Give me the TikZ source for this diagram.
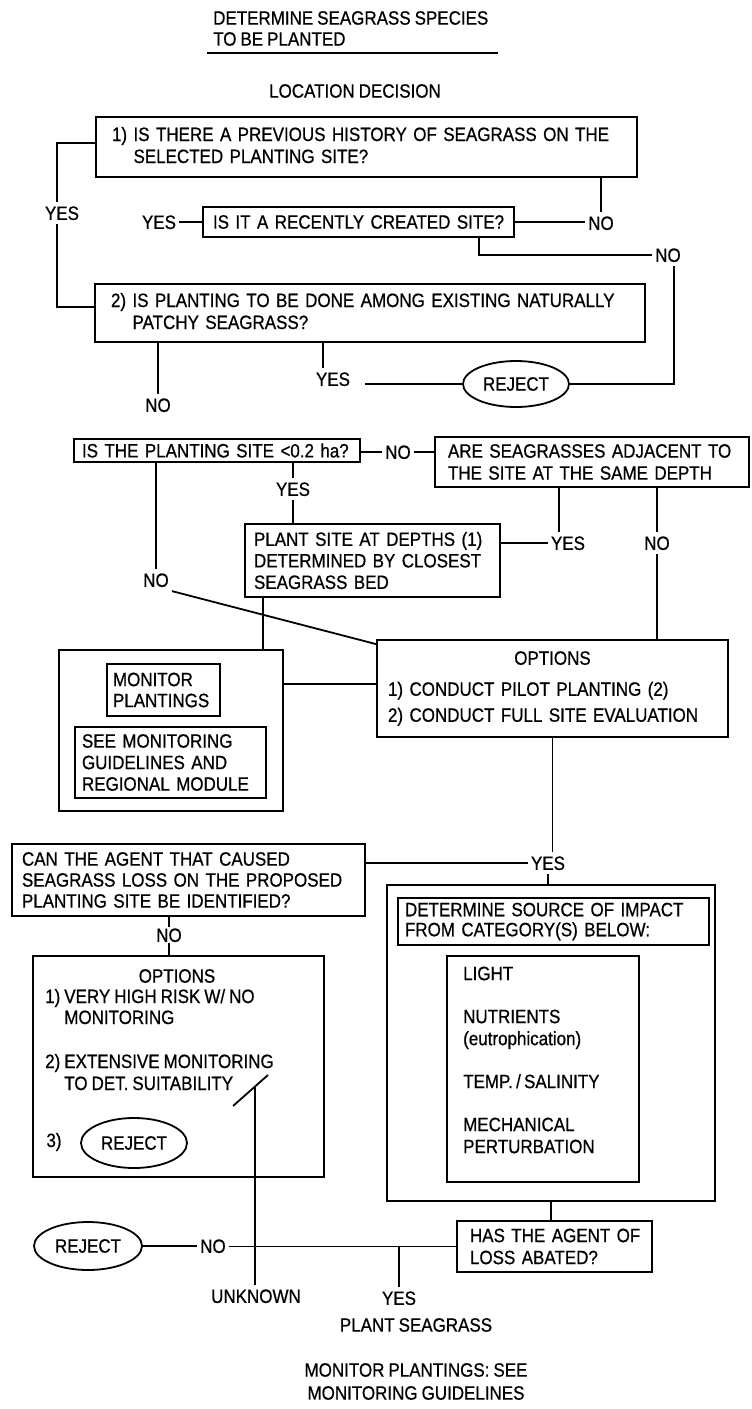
\documentclass[tikz,border=0pt]{standalone}
\usepackage{fontspec}
\setmainfont{Liberation Sans}[FakeStretch=0.88, FakeBold=0.7, WordSpace=0.85]
\usetikzlibrary{shapes.geometric}
\newcommand\dfont{\fontsize{19.3}{22}\selectfont}
\newcommand\Ln[1]{\mbox{#1}}
\tikzset{
  ln/.style={line width=1.8pt},
  bx/.style={draw, line width=1.8pt, inner ysep=0pt, align=left, font=\dfont},
  lbl/.style={inner xsep=3pt, inner ysep=4pt, text height=13.8pt, text depth=0pt, font=\dfont},
  txt/.style={inner sep=0pt, align=left, font=\dfont},
  rej/.style={draw, ellipse, line width=1.8pt, inner sep=0pt, font=\dfont},
}
\begin{document}
\begin{tikzpicture}[x=1pt,y=-1pt]
\useasboundingbox (0,0) rectangle (752,1409);

% title
\node[txt, anchor=west] (title) at (213,28.5) {\Ln{DETERMINE SEAGRASS SPECIES}\\[-1pt]\Ln{TO BE PLANTED}};
\draw[ln] (207,53) -- (498,53);
\node[txt] (loc) at (355,91) {LOCATION DECISION};

% question 1
\node[bx, text width=509pt, inner xsep=16pt, minimum height=60pt] (q1) at (366.5,147)
  {\Ln{1) IS THERE A PREVIOUS HISTORY OF SEAGRASS ON THE}\\\Ln{\phantom{1)~}SELECTED PLANTING SITE?}};
\node[lbl] (yes1) at (62,213) {YES};
\node[lbl] (yes2) at (159,222) {YES};
\node[bx, text width=291pt, inner xsep=10pt, minimum height=30pt] (q1b) at (358.5,222) {\Ln{IS IT A RECENTLY CREATED SITE?}};
\node[lbl] (no1) at (601,223) {NO};
\node[lbl] (no2) at (668,255) {NO};

% question 2
\node[bx, text width=518pt, inner xsep=16pt, minimum height=58pt] (q2) at (370,313)
  {\Ln{2) IS PLANTING TO BE DONE AMONG EXISTING NATURALLY}\\\Ln{\phantom{2)~}PATCHY SEAGRASS?}};
\node[lbl] (no3) at (158,405) {NO};
\node[lbl] (yes3) at (333,379) {YES};
\node[rej, minimum width=106pt, minimum height=46pt] (rej1) at (516,384) {REJECT};

% size / adjacency
\node[bx, text width=270pt, inner xsep=8pt, minimum height=23pt] (q3) at (217,450.5) {\Ln{IS THE PLANTING SITE <0.2 ha?}};
\node[lbl] (no4) at (398,452) {NO};
\node[bx, text width=288pt, inner xsep=13pt, minimum height=50pt] (q4) at (592,462)
  {\Ln{ARE SEAGRASSES ADJACENT TO}\\\Ln{THE SITE AT THE SAME DEPTH}};
\node[lbl] (yes4) at (293,489) {YES};
\node[lbl] (no5) at (156,580) {NO};
\node[bx, text width=237pt, inner xsep=9pt, minimum height=73pt] (plant) at (372.5,560.5)
  {\Ln{PLANT SITE AT DEPTHS (1)}\\[-0.5pt]\Ln{DETERMINED BY CLOSEST}\\[-0.5pt]\Ln{SEAGRASS BED}};
\node[lbl] (yes5) at (568,543) {YES};
\node[lbl] (no6) at (657,543) {NO};

% monitor box
\node[bx, minimum width=224pt, minimum height=161pt] (mon) at (171,730.5) {};
\node[bx, text width=101pt, inner xsep=6pt, minimum height=52pt] (monA) at (163.5,690) {\Ln{MONITOR}\\[-1pt]\Ln{PLANTINGS}};
\node[bx, text width=177pt, inner xsep=7pt, minimum height=71pt] (monB) at (170.5,762.5)
  {\Ln{SEE MONITORING}\\[-0.5pt]\Ln{GUIDELINES AND}\\[-0.5pt]\Ln{REGIONAL MODULE}};

% options
\node[bx, text width=329pt, inner xsep=11pt, minimum height=97pt] (opt) at (552.5,688.5)
  {\makebox[329pt][c]{OPTIONS}\\[9pt]\Ln{1) CONDUCT PILOT PLANTING (2)}\\[4pt]\Ln{2) CONDUCT FULL SITE EVALUATION}\\[-4pt]};

% agent identification
\node[bx, text width=333pt, inner xsep=10pt, minimum height=72pt] (can) at (188.5,880)
  {\Ln{CAN THE AGENT THAT CAUSED}\\[-1pt]\Ln{SEAGRASS LOSS ON THE PROPOSED}\\[-1pt]\Ln{PLANTING SITE BE IDENTIFIED?}};
\node[lbl] (yes6) at (548,863) {YES};
\node[lbl, inner ysep=1pt] (no7) at (169,935) {NO};

% left options
\node[bx, minimum width=291pt, minimum height=221pt] (opt2) at (178.5,1066.5) {};
\node[txt] (o2h) at (177,976) {OPTIONS};
\node[txt, anchor=west] (o2a) at (45,1008.5) {\Ln{1) VERY HIGH RISK W/ NO}\\[-1pt]\Ln{\phantom{1)~}MONITORING}};
\node[txt, anchor=west] (o2b) at (45,1074) {\Ln{2) EXTENSIVE MONITORING}\\\Ln{\phantom{2)~}TO DET. SUITABILITY}};
\node[txt] (o2c) at (54,1142) {3)};
\node[rej, minimum width=106pt, minimum height=50pt] (rej2) at (134,1143) {REJECT};

% determine source
\node[bx, minimum width=328pt, minimum height=316pt] (det) at (551,1043) {};
\node[bx, text width=297pt, inner xsep=7pt, minimum height=47pt] (detA) at (553.5,921.5)
  {\Ln{DETERMINE SOURCE OF IMPACT}\\[-2pt]\Ln{FROM CATEGORY(S) BELOW:}};
\node[bx, minimum width=192pt, minimum height=226pt] (cat) at (543,1069) {};
\node[txt, anchor=west] (catT) at (463,1060)
  {LIGHT\\[21pt]NUTRIENTS\\(eutrophication)\\[21pt]TEMP.\,/\,SALINITY\\[21pt]MECHANICAL\\PERTURBATION};

% abated
\node[bx, text width=169pt, inner xsep=13pt, minimum height=51pt] (has) at (554.5,1246.5)
  {\Ln{HAS THE AGENT OF}\\\Ln{LOSS ABATED?}};
\node[rej, minimum width=108pt, minimum height=48pt] (rej3) at (88,1246) {REJECT};
\node[lbl] (no8) at (213,1246) {NO};
\node[lbl] (unk) at (256,1296) {UNKNOWN};
\node[lbl] (yes7) at (399,1298) {YES};
\node[txt] (psg) at (416,1325) {PLANT SEAGRASS};
\node[txt, align=center] (fin) at (416,1381.5) {MONITOR PLANTINGS: SEE\\[1pt]MONITORING GUIDELINES};

\coordinate (slA) at (233,1106);
\coordinate (slB) at (268,1075);
\coordinate (slM) at (255,1086.5);

% connectors
\draw[ln] ([yshift=4pt]q1.west) -| ([xshift=-5pt]yes1.north);
\draw[ln] ([xshift=-5pt]yes1.south) |- ([yshift=6pt]q2.west);
\draw[ln] (yes2) -- (q1b);
\draw[ln] (q1.south -| no1.north) -- (no1.north);
\draw[ln] (q1b.east) -- (no1.west |- q1b.east);
\draw[ln] ([xshift=120.5pt]q1b.south) |- (no2.west);
\draw[ln] ([xshift=6pt]no2.south) |- (rej1.east);
\draw[ln] (q2.south -| no3.north) -- (no3.north);
\draw[ln] ([xshift=-10pt]yes3.north |- q2.south) -- ([xshift=-10pt]yes3.north);
\draw[ln] ([xshift=12pt]yes3.east |- rej1.west) -- (rej1.west);
\draw[ln] (q3.east |- no4.west) -- (no4.west);
\draw[ln] (no4.east) -- (q4.west |- no4.east);
\draw[ln] (q3.south -| yes4.north) -- (yes4.north);
\draw[ln] (yes4.south) -- (yes4.south |- plant.north);
\draw[ln] (q3.south -| no5.north) -- (no5.north);
\draw[ln] (no5.south east) -- ([yshift=-5pt]opt.north west);
\draw[ln] ([xshift=-9pt]yes5.north |- q4.south) -- ([xshift=-9pt]yes5.north);
\draw[ln] (plant.east |- yes5.west) -- (yes5.west);
\draw[ln] (q4.south -| no6.north) -- (no6.north);
\draw[ln] (no6.south) -- (no6.south |- opt.north);
\draw[ln] ([xshift=-109.5pt]plant.south) -- ([xshift=-109.5pt]plant.south |- mon.north);
\draw[ln] ([yshift=4.5pt]opt.west -| mon.east) -- ([yshift=4.5pt]opt.west);
\draw[ln] (opt.south) -- (opt.south |- yes6.north);
\draw[ln] (can.east |- yes6.west) -- (yes6.west);
\draw[ln] (yes6.south) -- (yes6.south |- det.north);
\draw[ln] (can.south -| no7.north) -- (no7.north);
\draw[ln] (no7.south) -- (no7.south |- opt2.north);
\draw[ln] (det.south) -- (det.south |- has.north);
\draw[ln] (has.west) -- (has.west -| no8.east);
\draw[ln] (rej3.east) -- (no8.west);
\draw[ln] (yes7.north |- has.west) -- (yes7.north);
\draw[ln] (slA) -- (slB);
\draw[ln] (slM) -- (slM |- unk.north);
\end{tikzpicture}
\end{document}
